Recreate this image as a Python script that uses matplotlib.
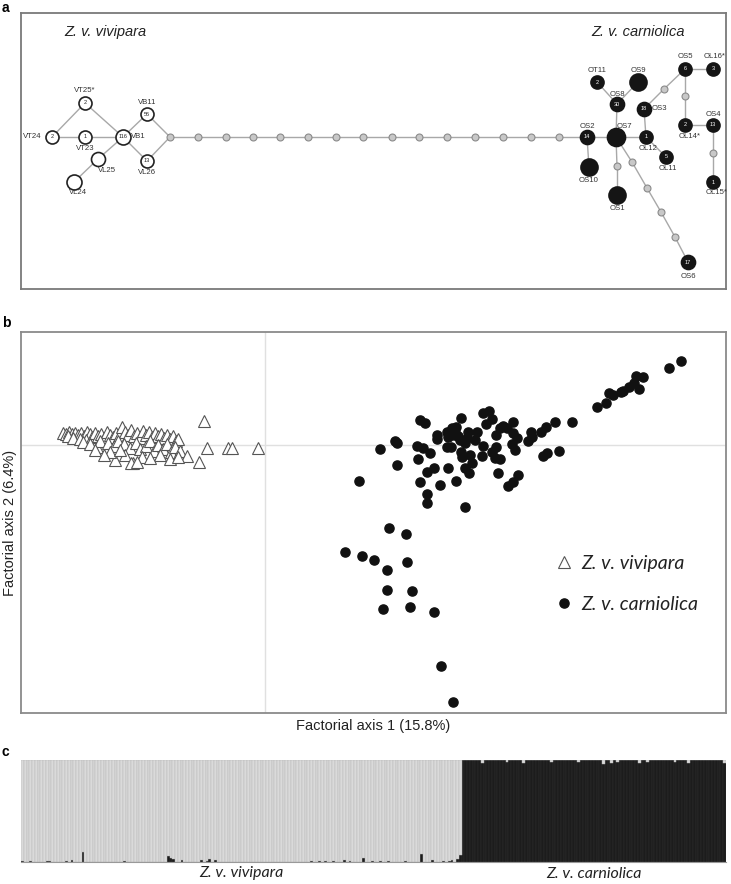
import numpy as np
import matplotlib
matplotlib.use('Agg')
import matplotlib.pyplot as plt

plt.rcParams['font.family'] = ['Liberation Sans', 'DejaVu Sans']

# ---------------- panel a : haplotype network (layout coordinates) ----------------
hap_names = ['VT24', 'VT25*', 'VT23', 'VB1', 'VB11', 'VL26', 'VL25', 'VL24',
             'OS2', 'OS10', 'OS7', 'OS8', 'OT11', 'OS9', 'OS1', 'OL12', 'OS3', 'OL11',
             'OS5', 'OL16*', 'OL14*', 'OS4', 'OL15*', 'OS6']
hap_x = [52, 85, 85, 123, 147, 147, 98, 74,
         587, 589, 616, 617, 597, 638, 617, 646, 644, 666, 685, 713, 685, 713, 713, 688]
hap_y = [137, 103, 137, 137, 114, 161, 159, 182,
         137, 167, 137, 104, 82, 82, 195, 137, 109, 157, 69, 69, 125, 125, 182, 262]
hap_counts = ['2', '2', '1', '116', '56', '13', '', '',
              '14', '', '', '30', '2', '', '', '1', '18', '5', '6', '3', '2', '13', '1', '17']
hap_group = ['viv'] * 8 + ['carn'] * 16
hap_size = [13, 13, 13, 15, 13, 13, 14, 15,
            14, 17, 18, 14, 13, 17, 17, 13, 14, 13, 13, 13, 13, 13, 13, 14]
# label centre offsets (px, y down)
lab_dx = [-20, 0, 0, 15, 0, 0, 9, 4,
          0, 0, 8, 0, 0, 0, 0, 2, 15, 2, 0, 2, 5, 0, 4, 0]
lab_dy = [0, -13, 12, 0, -11, 12, 12, 11,
          -11, 13, -11, -10, -11, -11, 14, 11, 0, 11, -12, -12, 12, -11, 11, 15]

med_names = ['m%d' % i for i in range(23)]
med_x = [170, 198, 226, 253, 280, 308, 336, 363, 392, 419, 447, 475, 503, 531, 559,
         617, 664, 685, 713, 632, 647, 661, 675]
med_y = [137] * 15 + [166, 89, 96, 153, 162, 188, 212, 237]

edges = [('VT24', 'VT25*'), ('VT24', 'VT23'), ('VT23', 'VB1'), ('VT25*', 'VB1'),
         ('VL24', 'VL25'), ('VL25', 'VB1'), ('VB1', 'VB11'), ('VB1', 'VL26'),
         ('VB11', 'm0'), ('VL26', 'm0')] + \
        [('m%d' % i, 'm%d' % (i + 1)) for i in range(14)] + \
        [('m14', 'OS2'), ('OS2', 'OS10'), ('OS2', 'OS7'), ('OS7', 'OS8'),
         ('OS8', 'OT11'), ('OS8', 'OS9'), ('OS7', 'm15'), ('m15', 'OS1'),
         ('OS7', 'OL12'), ('OL12', 'OS3'), ('OL12', 'OL11'), ('OS3', 'm16'),
         ('m16', 'OS5'), ('OS5', 'OL16*'), ('OS5', 'm17'), ('m17', 'OL14*'),
         ('OL14*', 'OS4'), ('OS4', 'm18'), ('m18', 'OL15*'), ('OS7', 'm19'),
         ('m19', 'm20'), ('m20', 'm21'), ('m21', 'm22'), ('m22', 'OS6')]

# ---------------- panel b : factorial correspondence analysis ----------------
viv_fx = [-2.02, -1.99, -1.96, -1.93, -1.90, -1.97, -1.87, -1.84, -1.81, -1.78, -1.75,
          -1.92, -1.85, -1.79, -1.73, -1.70, -1.67, -1.64, -1.61, -1.58, -1.55, -1.52,
          -1.49, -1.46, -1.43, -1.40, -1.37, -1.34, -1.31, -1.28, -1.25, -1.22, -1.19,
          -1.16, -1.13, -1.10, -1.07, -1.04, -1.01, -0.98, -0.95, -0.92, -0.89, -0.87,
          -1.82, -1.75, -1.68, -1.65, -1.57, -1.51, -1.47, -1.41, -1.35, -1.29, -1.25,
          -1.19, -1.15, -1.11, -1.07, -1.02, -0.98, -0.94, -0.90, -0.85, -0.78, -0.95,
          -1.32, -1.50, -1.55, -1.40, -1.23, -1.05, -0.87, -1.70, -1.61, -1.45, -1.15,
          -1.34, -1.28, -0.61, -0.58, -0.37, -0.33, -0.07, -0.66]
viv_fy = [0.12, 0.11, 0.13, 0.11, 0.12, 0.09, 0.10, 0.12, 0.09, 0.13, 0.11,
          0.07, 0.06, 0.05, 0.08, 0.12, 0.09, 0.11, 0.07, 0.13, 0.10, 0.08,
          0.12, 0.09, 0.18, 0.13, 0.10, 0.15, 0.09, 0.12, 0.07, 0.14, 0.10,
          0.13, 0.08, 0.12, 0.09, 0.11, 0.07, 0.10, 0.06, 0.09, 0.04, 0.06,
          0.03, 0.01, -0.02, 0.04, 0.02, -0.01, 0.04, 0.01, -0.03, 0.02, -0.04,
          -0.01, 0.04, -0.06, 0.00, -0.04, 0.01, -0.07, -0.02, -0.06, -0.11, -0.14,
          -0.18, -0.15, -0.07, -0.10, -0.12, -0.10, -0.12, -0.05, -0.10, -0.05, -0.13,
          -0.18, -0.17, 0.24, -0.03, -0.03, -0.03, -0.03, -0.17]

carn_fx = [4.16, 4.04, 3.78, 3.71, 3.69, 3.74, 3.64, 3.58, 3.56, 3.48, 3.44, 3.41, 3.32,
           3.07, 2.90, 2.81, 2.76, 2.66, 2.67, 2.63, 2.94, 2.82, 2.78, 2.48, 2.38, 2.42,
           2.35, 2.24, 2.18, 2.27, 2.31, 2.48, 2.52, 2.47, 2.50, 2.31, 2.27, 2.30, 2.35,
           2.33, 2.53, 2.48, 2.43, 2.18, 2.17, 2.07, 2.04, 2.00, 2.05, 1.96, 1.97, 2.00,
           2.02, 2.03, 2.12, 1.96, 1.91, 1.87, 1.85, 1.82, 1.89, 1.83, 1.72, 1.72, 1.82,
           1.86, 1.55, 1.60, 1.30, 1.32, 1.15, 1.52, 1.58, 1.65, 1.53, 1.32, 1.62, 1.69,
           1.83, 1.55, 1.75, 1.91, 1.62, 1.62, 2.00, 0.94, 1.24, 1.41, 0.80, 0.97, 1.09,
           1.42, 1.22, 1.22, 1.47, 1.18, 1.45, 1.69, 1.76, 1.88,
           1.90, 1.95, 1.93, 2.10, 2.21]
carn_fy = [0.84, 0.77, 0.68, 0.69, 0.62, 0.56, 0.58, 0.54, 0.53, 0.50, 0.52, 0.42, 0.38,
           0.23, 0.23, 0.18, 0.13, 0.13, 0.08, 0.04, -0.06, -0.08, -0.11, 0.23, 0.19, 0.17,
           0.17, 0.34, 0.32, 0.26, 0.10, 0.12, 0.07, 0.01, -0.05, -0.02, -0.07, -0.13, -0.14,
           -0.28, -0.30, -0.37, -0.41, -0.01, -0.11, -0.18, -0.28, -0.23, -0.10, -0.07, -0.12, 0.02,
           0.07, 0.13, 0.13, 0.27, 0.18, 0.17, 0.12, 0.13, 0.10, 0.08, 0.10, 0.06, -0.02,
           -0.02, 0.25, 0.22, 0.04, 0.02, -0.04, -0.01, -0.03, -0.08, -0.14, -0.20, -0.27, -0.23,
           -0.23, -0.37, -0.40, -0.36, -0.49, -0.58, -0.62, -0.36, -0.83, -0.89, -1.07, -1.11, -1.15,
           -1.17, -1.25, -1.45, -1.46, -1.64, -1.62, -1.67, -2.21, -2.57,
           0.13, 0.05, 0.09, 0.05, 0.21]

# ---------------- panel c : STRUCTURE admixture bars ----------------
viv_n = 160
carn_n = 96
viv_dark_idx = [0, 3, 9, 10, 16, 18, 22, 37, 53, 54, 55, 58, 65, 67, 68, 70, 105, 108,
                110, 113, 117, 119, 124, 127, 130, 133, 139, 145, 149, 153, 155, 156, 158, 159]
viv_dark_val = [0.01, 0.008, 0.012, 0.01, 0.01, 0.015, 0.10, 0.008, 0.06, 0.04, 0.03, 0.015,
                0.02, 0.01, 0.03, 0.015, 0.01, 0.008, 0.01, 0.012, 0.015, 0.008, 0.04, 0.01,
                0.012, 0.008, 0.01, 0.08, 0.015, 0.01, 0.012, 0.015, 0.03, 0.07]
carn_light_idx = [7, 16, 22, 32, 42, 51, 54, 56, 64, 67, 77, 82, 95]
carn_light_val = [0.03, 0.02, 0.025, 0.02, 0.02, 0.04, 0.03, 0.02, 0.025, 0.02, 0.02, 0.03, 0.03]

fig = plt.figure(figsize=(7.31, 8.84), dpi=100)
W, H = 731.0, 884.0
ax_a = fig.add_axes([21 / W, 1 - 289 / H, 705 / W, 276 / H])
ax_b = fig.add_axes([21 / W, 1 - 713 / H, 705 / W, 381 / H])
ax_c = fig.add_axes([21 / W, 1 - 862 / H, 705 / W, 102 / H])

# ---- a ----
pos = {}
for n, x, y in zip(hap_names, hap_x, hap_y):
    pos[n] = (x, y)
for n, x, y in zip(med_names, med_x, med_y):
    pos[n] = (x, y)

for u, v in edges:
    ax_a.plot([pos[u][0], pos[v][0]], [pos[u][1], pos[v][1]], color='#a8a8a8', lw=1.0, zorder=1)

ax_a.plot(med_x, med_y, 'o', ls='none', ms=5, mfc='#c8c8c8', mec='#8a8a8a', mew=0.8, zorder=2)

for i, n in enumerate(hap_names):
    if hap_group[i] == 'viv':
        fc, ec, tc = 'white', '#222222', '#222222'
    else:
        fc, ec, tc = '#151515', '#151515', 'white'
    ax_a.plot(hap_x[i], hap_y[i], 'o', ms=hap_size[i] * 0.72, mfc=fc, mec=ec, mew=1.2, zorder=3)
    if hap_counts[i]:
        ax_a.text(hap_x[i], hap_y[i], hap_counts[i], fontsize=4.0, color=tc,
                  ha='center', va='center', zorder=4)
    ax_a.annotate(n, (hap_x[i], hap_y[i]), xytext=(lab_dx[i] * 0.72, -lab_dy[i] * 0.72),
                  textcoords='offset points', ha='center', va='center',
                  fontsize=5.6, color='#333333')

ax_a.text(105, 32, 'Z. v. vivipara', fontsize=10.5, style='italic', ha='center', va='center', color='#222222')
ax_a.text(638, 32, 'Z. v. carniolica', fontsize=10.5, style='italic', ha='center', va='center', color='#222222')

ax_a.set_xlim(21, 726)
ax_a.set_ylim(289, 13)
ax_a.set_xticks([])
ax_a.set_yticks([])
for s in ax_a.spines.values():
    s.set_color('#7a7a7a')
    s.set_linewidth(1.3)

# ---- b ----
ax_b.axvline(0, color='#e0e0e0', lw=1.0, zorder=0)
ax_b.axhline(0, color='#e0e0e0', lw=1.0, zorder=0)
ax_b.plot(viv_fx, viv_fy, '^', ls='none', ms=8.5, mfc='white', mec='#555555', mew=0.8,
          label='Z. v. vivipara')
ax_b.plot(carn_fx, carn_fy, 'o', ls='none', ms=6.6, mfc='#111111', mec='#111111',
          label='Z. v. carniolica')
ax_b.set_xlim(-2.44, 4.61)
ax_b.set_ylim(-2.68, 1.13)
ax_b.set_xticks([])
ax_b.set_yticks([])
for s in ax_b.spines.values():
    s.set_color('#8a8a8a')
    s.set_linewidth(1.3)
ax_b.set_xlabel('Factorial axis 1 (15.8%)', fontsize=10.5, color='#222222', labelpad=4)
ax_b.set_ylabel('Factorial axis 2 (6.4%)', fontsize=10.5, color='#222222', labelpad=3)
leg = ax_b.legend(loc='upper left', bbox_to_anchor=(0.757, 0.415), frameon=False,
                  handlelength=1.0, handletextpad=0.35, labelspacing=1.25, borderpad=0,
                  borderaxespad=0, prop={'family': 'Lato', 'style': 'italic', 'size': 14})
for t in leg.get_texts():
    t.set_color('#222222')

# ---- c ----
viv_dark = np.zeros(viv_n)
viv_dark[viv_dark_idx] = viv_dark_val
carn_light = np.zeros(carn_n)
carn_light[carn_light_idx] = carn_light_val
dark = np.concatenate([viv_dark, 1 - carn_light])
light = 1 - dark
xs = np.arange(viv_n + carn_n)

ax_c.bar(xs, dark, width=1, align='edge', bottom=0, color='#1c1c1c', edgecolor='#333333', lw=0.3)
ax_c.bar(xs, light, width=1, align='edge', bottom=dark, color='#dadada', edgecolor='#b4b4b4', lw=0.3)
ax_c.set_xlim(0, viv_n + carn_n)
ax_c.set_ylim(0, 1)
ax_c.set_xticks([])
ax_c.set_yticks([])
for k in ['top', 'left', 'right']:
    ax_c.spines[k].set_visible(False)
ax_c.spines['bottom'].set_color('#999999')
ax_c.spines['bottom'].set_linewidth(0.8)
ax_c.annotate('Z. v. vivipara', (viv_n / 2, 0), xycoords=('data', 'axes fraction'),
              xytext=(0, -8), textcoords='offset points', ha='center', va='center',
              family='Lato', style='italic', fontsize=11.5, color='#222222')
ax_c.annotate('Z. v. carniolica', (viv_n + carn_n / 2, 0), xycoords=('data', 'axes fraction'),
              xytext=(0, -9), textcoords='offset points', ha='center', va='center',
              family='Lato', style='italic', fontsize=11.5, color='#222222')

# panel letters
fig.text(2 / W, 1 - 1 / H, 'a', fontsize=10, fontweight='bold', va='top', ha='left')
fig.text(2 / W, 1 - 323 / H, 'b', fontsize=10, fontweight='bold', va='center', ha='left')
fig.text(2 / W, 1 - 752 / H, 'c', fontsize=10, fontweight='bold', va='center', ha='left')

fig.savefig('out.png', dpi=100)
